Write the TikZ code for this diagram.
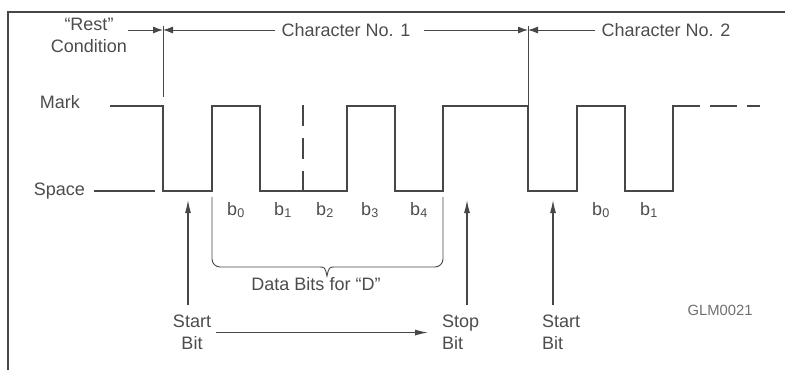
\documentclass[tikz,border=0pt]{standalone}
\usepackage{fontspec}
\setmainfont{Liberation Sans}
\usepackage{xcolor}
\usetikzlibrary{arrows.meta, positioning, calc}
\definecolor{inkgray}{gray}{0.28}
\definecolor{textgray}{gray}{0.3}
\tikzset{
  frameline/.style={line width=1.4pt, color=inkgray},
  sigline/.style={line width=1.7pt, color=inkgray, line join=miter},
  thinline/.style={line width=0.9pt, color=inkgray},
  dimarrow/.style={thinline, -{Latex[length=10pt, width=7pt]}},
  bitarrow/.style={line width=1.1pt, color=inkgray, -{Latex[length=13pt, width=6pt]}},
  lbl/.style={font=\fontsize{18}{22}\selectfont, text=textgray, inner sep=1pt},
  charlabel/.style={lbl, inner xsep=6pt},
  bitlabel/.style={lbl, anchor=base},
  figlabel/.style={font=\fontsize{14.8}{16}\selectfont, text=textgray!80, anchor=base},
}
\begin{document}
\begin{tikzpicture}[x=1pt, y=-1pt]
  \useasboundingbox (0,0) rectangle (785,370);
  % Frame
  \draw[frameline] (785,12) -- (8,12) -- (8,370);

  % Level labels
  \node[lbl, anchor=base east] (mark) at (81,108) {Mark};
  \node[lbl, anchor=east] (space) at (86,191) {Space};
  \coordinate (spcend) at (155,191);
  \draw[sigline, shorten <=8pt] (space.east) -- (spcend);

  % Waveform
  \draw[sigline] (110,106) -- (163,106) -- (163,191) -- (212,191) -- (212,106)
    -- (260,106) -- (260,191) -- (347,191) -- (347,106) -- (395,106) -- (395,191)
    -- (443,191) -- (443,106) -- (528,106) -- (528,191) -- (577,191) -- (577,106)
    -- (625,106) -- (625,191) -- (673,191) -- (673,106) -- (700,106);
  \draw[sigline, dash pattern=on 27pt off 10pt] (710,106) -- (760,106);
  \draw[sigline, dash pattern=on 21pt off 12pt] (303,105) -- (303,191);

  % Character boundaries
  \coordinate (tick1) at (163,30);
  \coordinate (tick2) at (528,30);
  \draw[thinline] (163,26) -- (163,97);
  \draw[thinline] (528,26) -- (528,106);

  \node[lbl, align=center] (rest) at (89,35) {“Rest”\\Condition};
  \node[charlabel] (char1) at (346,30) {Character No. 1};
  \node[charlabel] (char2) at (666,30) {Character No. 2};
  \draw[dimarrow] (rest.east |- tick1) -- (tick1);
  \draw[dimarrow] (char1.west) -- (tick1);
  \draw[dimarrow, shorten <=7pt] (char1.east) -- (tick2);
  \draw[dimarrow] (char2.west) -- (tick2);

  % Bit labels
  \node[bitlabel] (c1b0) at (236,215) {b\textsubscript{0}};
  \node[bitlabel] (c1b1) at (283,215) {b\textsubscript{1}};
  \node[bitlabel] (c1b2) at (325,215) {b\textsubscript{2}};
  \node[bitlabel] (c1b3) at (370,215) {b\textsubscript{3}};
  \node[bitlabel] (c1b4) at (419,215) {b\textsubscript{4}};
  \node[bitlabel] (c2b0) at (601,215) {b\textsubscript{0}};
  \node[bitlabel] (c2b1) at (649,215) {b\textsubscript{1}};

  % Data bits brace
  \draw[thinline] (212,197) -- (212,259) to[out=-90, in=180] (220,267) -- (318,267)
    .. controls (325,267) .. (327,276) .. controls (329,267) .. (336,267)
    -- (435,267) to[out=0, in=-90] (443,259) -- (443,197);
  \node[bitlabel] (databits) at (316,290) {Data Bits for “D”};

  % Start and stop bits
  \node[lbl, align=center, anchor=north] (start1) at (192,314) {Start\\Bit};
  \node[lbl, align=left, anchor=north west] (stop) at (441,314) {Stop\\Bit};
  \node[lbl, align=left, anchor=north west] (start2) at (541,314) {Start\\Bit};
  \coordinate (s1tip) at (188,200);
  \coordinate (stoptip) at (467,200);
  \coordinate (s2tip) at (553,200);
  \draw[bitarrow, shorten <=9pt] (start1.north -| s1tip) -- (s1tip);
  \draw[bitarrow, shorten <=9pt] (stop.north -| stoptip) -- (stoptip);
  \draw[bitarrow, shorten <=9pt] (start2.north -| s2tip) -- (s2tip);
  \draw[bitarrow, shorten <=3.5pt, shorten >=13pt] (start1.east) -- (stop.west);

  \node[figlabel] (figno) at (720,315) {GLM0021};
\end{tikzpicture}
\end{document}
